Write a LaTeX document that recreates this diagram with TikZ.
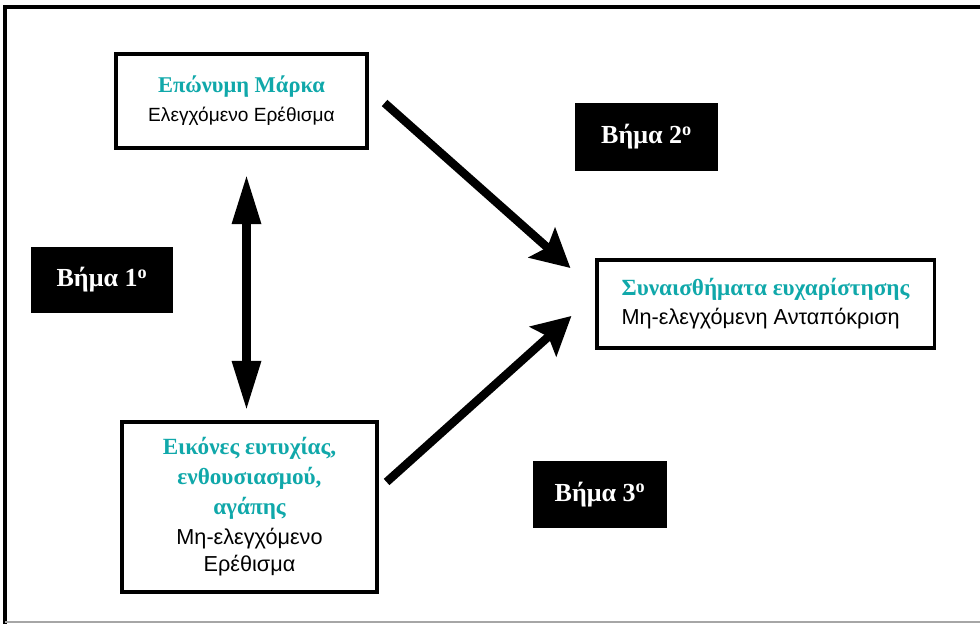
\documentclass[tikz,border=0pt]{standalone}
\usepackage{fontspec}
\setmainfont{Liberation Serif}
\newfontfamily\plainsans{Liberation Sans}
\usetikzlibrary{arrows.meta, calc}

\definecolor{headteal}{RGB}{16,168,170}

%% text of the boxes
\newcommand{\headtxt}[2][16.5]{{\color{headteal}\bfseries\fontsize{#1}{21}\selectfont #2}}
\newcommand{\subtxt}[2][15.4]{{\plainsans\fontsize{#1}{21}\selectfont #2}}

\tikzset{
  framebox/.style={draw, line width=2.2pt, inner sep=0pt, align=center,
    font=\fontsize{15}{20.6}\selectfont},
  stepbox/.style={fill=black, text=white, inner sep=0pt,
    font=\bfseries\fontsize{18.5}{22}\selectfont},
  bigarrow/.style={line width=6pt, -{Stealth[length=27pt,width=28pt,inset=5pt]}},
  dblarrow/.style={line width=7pt,
    {Triangle[length=36pt,width=19pt]}-{Triangle[length=36pt,width=19pt]}}
}

\begin{document}
\begin{tikzpicture}[x=0.025cm, y=-0.025cm]

\useasboundingbox (0,0) rectangle (980,624);

%% outer frame
\draw[line width=2.4pt] (5,624) -- (5,7) -- (980,7);
\draw[black!35, line width=1pt] (5,622) -- (980,622);

%% boxes (sizes: px * 0.025cm)
\node[framebox, minimum width=6.275cm, minimum height=2.35cm] (brand) at (241.5,101)
  {\headtxt[16]{Επώνυμη Μάρκα}\\\subtxt[13.6]{Ελεγχόμενο Ερέθισμα}};

\node[framebox, minimum width=8.425cm, minimum height=2.2cm, align=left] (response) at (765.5,304)
  {\headtxt{Συναισθήματα ευχαρίστησης}\\\subtxt{Μη-ελεγχόμενη Ανταπόκριση}};

\node[framebox, minimum width=6.375cm, minimum height=4.25cm,
      font=\fontsize{15}{21.3}\selectfont] (images) at (249.5,507)
  {\headtxt{Εικόνες ευτυχίας,}\\
   \headtxt{ενθουσιασμού,}\\
   \headtxt{αγάπης}\\
   \subtxt{Μη-ελεγχόμενο}\\[-2pt]
   \subtxt{Ερέθισμα}};

%% steps
\node[stepbox, minimum width=3.55cm, minimum height=1.65cm] (stepone) at (102,280)
  {Βήμα 1\textsuperscript{o}};
\node[stepbox, minimum width=3.575cm, minimum height=1.7cm] (steptwo) at (646.5,137)
  {Βήμα 2\textsuperscript{o}};
\node[stepbox, minimum width=3.35cm, minimum height=1.675cm] (stepthree) at (600,494.5)
  {Βήμα 3\textsuperscript{o}};

%% arrows
\draw[dblarrow] ($(brand.south)+(5,24)$) -- ($(images.north)+(-3,-9)$);
\draw[bigarrow] ($(brand.east)+(16,2)$) -- ($(response.west)+(-25,-36)$);
\draw[bigarrow] ($(images.east)+(8,-25)$) -- ($(response.west)+(-24,12)$);

\end{tikzpicture}
\end{document}
